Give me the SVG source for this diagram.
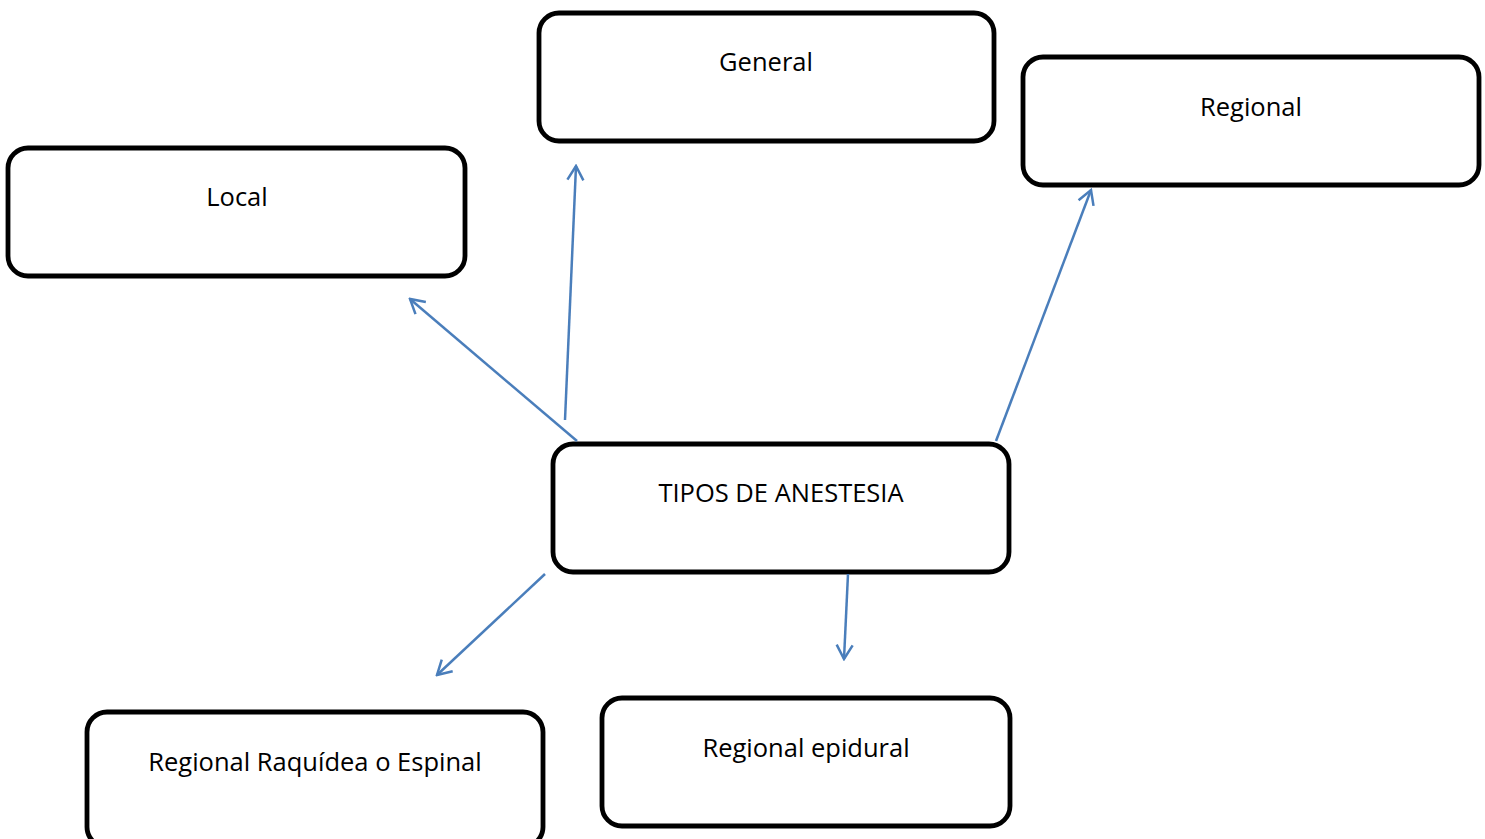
<svg xmlns="http://www.w3.org/2000/svg" width="1485" height="839" viewBox="0 0 1485 839">
<style>
.box{fill:#fff;stroke:#000;stroke-width:4.8}
.lbl{font-family:"Open Sans","Liberation Sans",sans-serif;font-size:25.5px;fill:#000;text-anchor:middle}
.conn{stroke:#4a7ebb;stroke-width:2.5;fill:none;marker-end:url(#ah)}
</style>
<defs>
<marker id="ah" markerUnits="userSpaceOnUse" viewBox="-16 -10 18 20" refX="0" refY="0" markerWidth="18" markerHeight="20" orient="auto">
<path d="M-14,-8 L0,0 L-14,8" fill="none" stroke="#4a7ebb" stroke-width="2.5"/>
</marker>
</defs>
<rect width="1485" height="839" fill="#fff"/>
<g id="local"><rect class="box" x="8" y="148" width="457" height="128" rx="20"/><text class="lbl" x="237" y="206">Local</text></g>
<g id="general"><rect class="box" x="539" y="13" width="455" height="128" rx="20"/><text class="lbl" x="766" y="71">General</text></g>
<g id="regional"><rect class="box" x="1023" y="57" width="456" height="128" rx="20"/><text class="lbl" x="1251" y="116">Regional</text></g>
<g id="tipos"><rect class="box" x="553" y="444" width="456" height="128" rx="20"/><text class="lbl" x="781" y="502">TIPOS DE ANESTESIA</text></g>
<g id="raquidea"><rect class="box" x="87" y="712" width="456" height="135" rx="20"/><text class="lbl" x="315" y="771">Regional Raquídea o Espinal</text></g>
<g id="epidural"><rect class="box" x="602" y="698" width="408" height="128" rx="20"/><text class="lbl" x="806" y="757">Regional epidural</text></g>
<g id="connectors">
<line class="conn" x1="577" y1="441" x2="410" y2="299"/>
<line class="conn" x1="565" y1="420" x2="576" y2="166"/>
<line class="conn" x1="996" y1="441" x2="1091" y2="190"/>
<line class="conn" x1="545" y1="574" x2="437" y2="675"/>
<line class="conn" x1="848" y1="574" x2="844" y2="659"/>
</g>
</svg>
